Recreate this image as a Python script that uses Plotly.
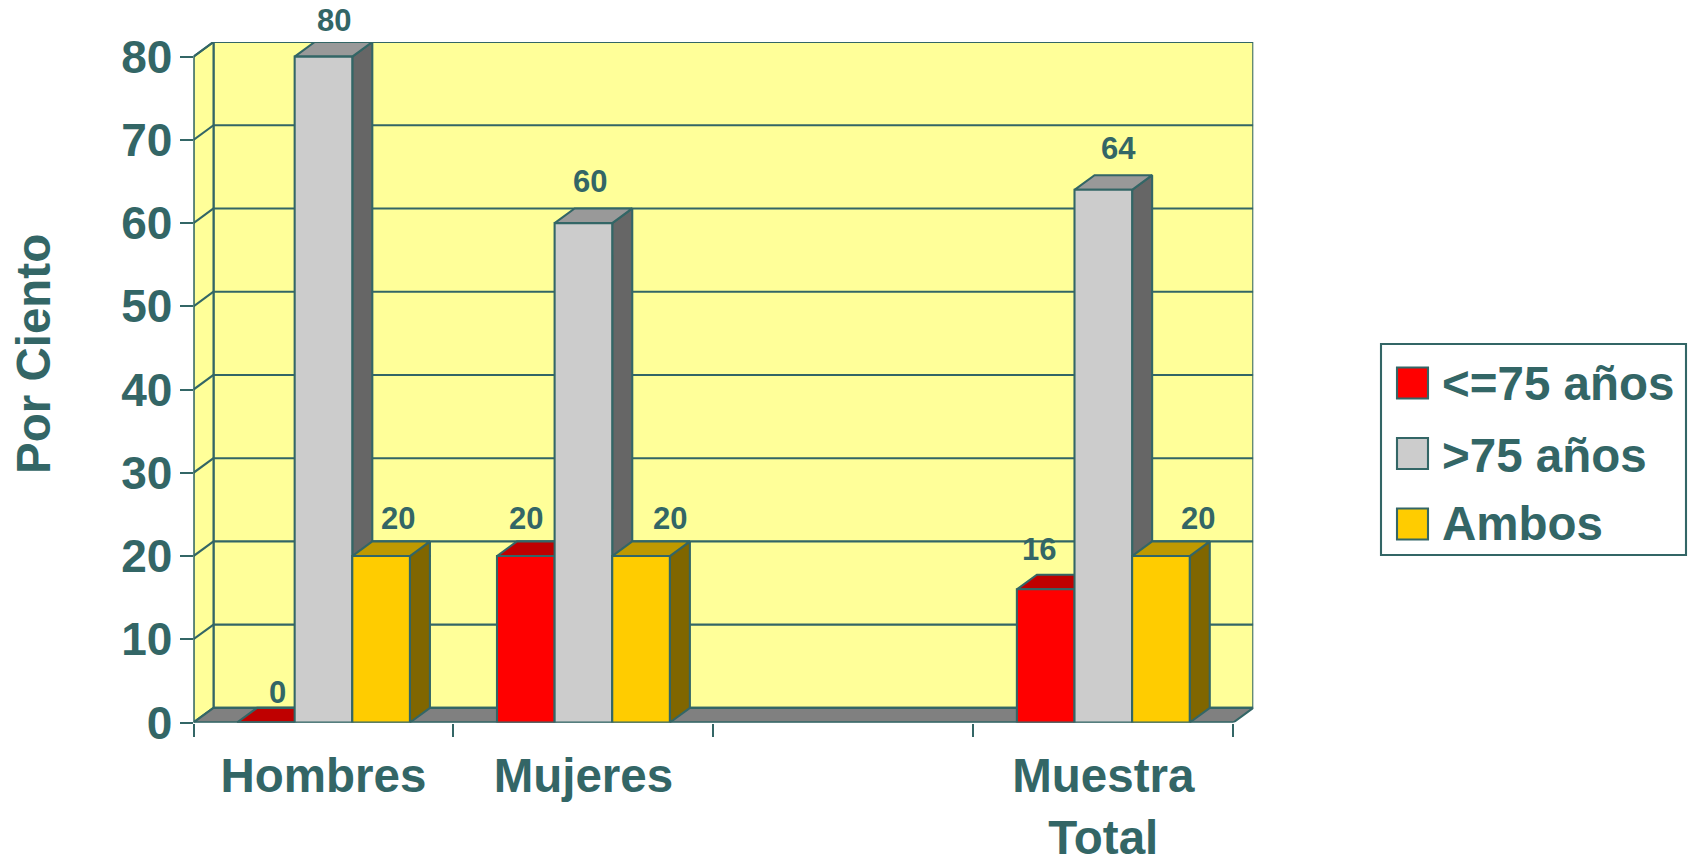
import plotly.graph_objects as go

CATEGORIES = ["Hombres", "Mujeres", " ", "Muestra<br>Total"]
SERIES_NAMES = ["<=75 años", ">75 años", "Ambos"]
MENORES = [0, 20, None, 16]
MAYORES = [80, 60, None, 64]
AMBOS = [20, 20, None, 20]
Y_TICKS = [0, 10, 20, 30, 40, 50, 60, 70, 80]

SERIES = [MENORES, MAYORES, AMBOS]
FRONT = ["#FF0000", "#CCCCCC", "#FFCC00"]
TOP = ["#BF0000", "#999999", "#BF9900"]
SIDE = ["#800000", "#666666", "#806600"]
LABEL_XSHIFT = [[2, -10, 0, -17], [1, -3, 0, 5], [7, 19, 0, 27]]
LABEL_YSHIFT = [[15, 23, 0, 25], [22, 27, 0, 27], [23, 23, 0, 23]]

INK = "#336666"
WALL = "#FFFF99"
FLOOR = "#808080"
FONT = "Liberation Sans"
W, H = 1690, 858
LEFT, RIGHT, BOTTOM, TOP_PX = 193.5, 1253.3, 722.5, 42
DX, DY = 0.077, 1.755
BARGAP = 0.335
BARW = (1 - BARGAP) / 3
XMIN, XMAX = -0.5, len(CATEGORIES) - 0.5
YMAX = Y_TICKS[-1]
LW = 2.1

fig = go.Figure()


def poly(xs, ys, fill):
    fig.add_trace(go.Scatter(
        x=xs + xs[:1], y=ys + ys[:1], mode="lines", fill="toself", fillcolor=fill,
        line=dict(color=INK, width=LW), hoverinfo="skip", showlegend=False,
        xaxis="x", yaxis="y", cliponaxis=False))


def segments(pairs):
    xs, ys = [], []
    for (x0, y0), (x1, y1) in pairs:
        xs += [x0, x1, None]
        ys += [y0, y1, None]
    fig.add_trace(go.Scatter(
        x=xs, y=ys, mode="lines", line=dict(color=INK, width=LW),
        hoverinfo="skip", showlegend=False, xaxis="x", yaxis="y", cliponaxis=False))


# walls and floor
poly([XMIN + DX, XMAX + DX, XMAX + DX, XMIN + DX], [DY, DY, YMAX + DY, YMAX + DY], WALL)
poly([XMIN, XMIN + DX, XMIN + DX, XMIN], [0, DY, YMAX + DY, YMAX], WALL)
poly([XMIN, XMAX, XMAX + DX, XMIN + DX], [0, 0, DY, DY], FLOOR)

# gridlines on both walls
grid = []
for t in Y_TICKS[1:-1]:
    grid.append(((XMIN, t), (XMIN + DX, t + DY)))
    grid.append(((XMIN + DX, t + DY), (XMAX + DX, t + DY)))
grid.append(((XMIN, YMAX), (XMIN + DX, YMAX + DY)))
segments(grid)

# depth faces of the bars
for s, values in enumerate(SERIES):
    for c, v in enumerate(values):
        if v is None:
            continue
        x0 = c - 0.5 + BARGAP / 2 + s * BARW
        x1 = x0 + BARW
        poly([x1, x1 + DX, x1 + DX, x1], [0, DY, v + DY, v], SIDE[s])
        poly([x0, x1, x1 + DX, x0 + DX], [v, v, v + DY, v + DY], TOP[s])

# front faces
for s, values in enumerate(SERIES):
    fig.add_trace(go.Bar(
        x=CATEGORIES, y=values, name=SERIES_NAMES[s], marker=dict(
            color=FRONT[s], line=dict(color=INK, width=LW)),
        xaxis="x2", yaxis="y", showlegend=False, cliponaxis=False))

# front axis lines
fig.add_trace(go.Scatter(
    x=[XMIN, XMIN, XMAX], y=[YMAX, 0, 0], mode="lines", line=dict(color=INK, width=LW),
    hoverinfo="skip", showlegend=False, xaxis="x", yaxis="y", cliponaxis=False))

annotations = []
for s, values in enumerate(SERIES):
    for c, v in enumerate(values):
        if v is None:
            continue
        annotations.append(dict(
            x=c - 0.5 + BARGAP / 2 + (s + 0.5) * BARW + DX / 2, y=v + DY, xref="x", yref="y",
            text=str(v), showarrow=False, xanchor="center", yanchor="middle",
            xshift=LABEL_XSHIFT[s][c], yshift=LABEL_YSHIFT[s][c],
            font=dict(family=FONT, size=31, color=INK, weight="bold")))

annotations.append(dict(
    x=33 / W, y=1 - 354 / H, xref="paper", yref="paper", text="Por Ciento", textangle=-90,
    showarrow=False, xanchor="center", yanchor="middle",
    font=dict(family=FONT, size=47.5, color=INK, weight="bold")))

# legend box
shapes = [dict(type="rect", xref="paper", yref="paper", x0=1381 / W, x1=1686 / W,
               y0=1 - 555 / H, y1=1 - 344 / H, line=dict(color=INK, width=LW),
               fillcolor="white")]
TEXT_ROWS = [384, 455, 523]
for i, name in enumerate(SERIES_NAMES):
    cy = 383 + i * 70.5
    shapes.append(dict(type="rect", xref="paper", yref="paper", x0=1397 / W, x1=1428 / W,
                       y0=1 - (cy + 15.5) / H, y1=1 - (cy - 15.5) / H,
                       line=dict(color=INK, width=LW), fillcolor=FRONT[i]))
    annotations.append(dict(
        x=1440 / W, y=1 - TEXT_ROWS[i] / H, xref="paper", yref="paper",
        text=name.replace("<", "&lt;"), showarrow=False, xanchor="left", yanchor="middle",
        font=dict(family=FONT, size=47.5, color=INK, weight="bold")))

fig.update_layout(
    width=W, height=H, margin=dict(l=0, r=0, t=0, b=0), paper_bgcolor="white",
    plot_bgcolor="white", barmode="group", bargap=BARGAP, bargroupgap=0,
    showlegend=False, annotations=annotations, shapes=shapes,
    xaxis=dict(domain=[LEFT / W, RIGHT / W], range=[XMIN, XMAX + DX], visible=False,
               automargin=False),
    xaxis2=dict(
        domain=[LEFT / W, RIGHT / W], overlaying="x", anchor="y", side="bottom",
        type="category", categoryorder="array", categoryarray=CATEGORIES, automargin=False,
        range=[XMIN, XMAX + DX], tickson="boundaries", ticks="outside", ticklen=13,
        tickwidth=LW, tickcolor=INK, showgrid=False, zeroline=False, showline=False,
        ticklabelstandoff=21, tickangle=0,
        tickfont=dict(family=FONT, size=47.5, color=INK, weight="bold")),
    yaxis=dict(
        domain=[1 - BOTTOM / H, 1 - TOP_PX / H], range=[0, YMAX + DY], anchor="x", automargin=False,
        tickvals=Y_TICKS, ticks="outside", ticklen=13, tickwidth=LW, tickcolor=INK,
        showgrid=False, zeroline=False, showline=False, ticklabelstandoff=-2,
        tickfont=dict(family=FONT, size=46, color=INK, weight="bold")),
)

fig.write_html("out.html", config={"displayModeBar": False},
               post_script="document.body.style.margin='0';document.body.style.overflow='hidden';")
